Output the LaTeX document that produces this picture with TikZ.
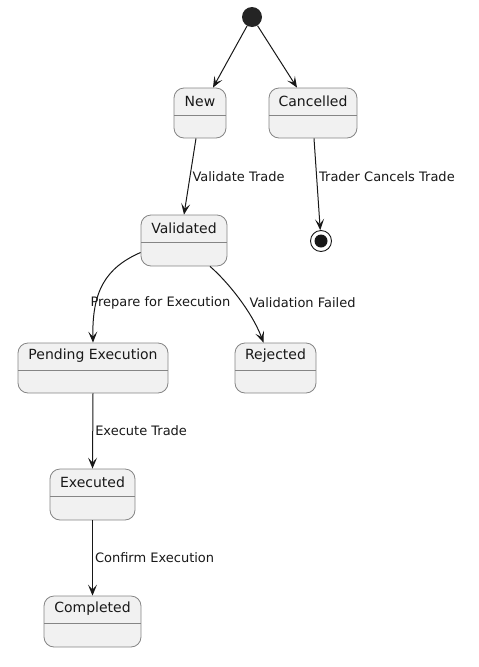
\documentclass[tikz,border=0pt]{standalone}
\usepackage{fontspec}
\setmainfont{DejaVu Sans}
\usetikzlibrary{arrows.meta,calc}
\definecolor{boxfill}{HTML}{F1F1F1}
\definecolor{boxline}{HTML}{858585}
\definecolor{ink}{HTML}{181818}
\tikzset{
  stbox/.style n args={3}{draw=boxline, line width=0.8pt, fill=boxfill, rounded corners=10pt,
    minimum width=#2, minimum height=#3, inner sep=0pt,
    path picture={\draw[boxline, line width=0.8pt]
      ([yshift=-27pt]path picture bounding box.north west) --
      ([yshift=-27pt]path picture bounding box.north east);},
    label={[font=\fontsize{14}{16}\selectfont, text=ink, anchor=center, yshift=-13.5pt]north:#1}},
  conn/.style={draw=ink, line width=1pt, -{Stealth[length=11pt,width=9pt,inset=5pt]}},
  lbl/.style={font=\fontsize{13}{15}\selectfont, text=ink, inner sep=1pt, anchor=west},
  startdot/.style={circle, fill=ink!95, minimum size=20pt, inner sep=0pt},
  enddot/.style={circle, draw=ink, line width=0.9pt, fill=white, minimum size=21pt, inner sep=0pt,
    path picture={\fill[ink] (path picture bounding box.center) circle (6.5pt);}}
}
\begin{document}
\begin{tikzpicture}[x=1pt,y=-1pt]
\useasboundingbox (0,0) rectangle (479,667);
\node[startdot] (start) at (252,17) {};
\node[stbox={New}{52pt}{50pt}] (new) at (200,113) {};
\node[stbox={Cancelled}{88pt}{50pt}] (can) at (313,113) {};
\node[stbox={Validated}{86pt}{51pt}] (val) at (184,240.5) {};
\node[enddot] (fin) at (321,241) {};
\node[stbox={Pending Execution}{150pt}{50pt}] (pend) at (93,368) {};
\node[stbox={Rejected}{81pt}{50pt}] (rej) at (275.5,368) {};
\node[stbox={Executed}{85pt}{51pt}] (exe) at (92.5,494.5) {};
\node[stbox={Completed}{97pt}{51pt}] (comp) at (92.5,621.5) {};

\draw[conn] (start) -- ($(new.north)+(13,0)$);
\draw[conn] (start) -- ($(can.north)+(-16,0)$);
\draw[conn] ($(new.south)+(-4,0)$) -- node[lbl, xshift=1pt] {Validate Trade} (val.north);
\draw[conn] ($(can.south)+(1,0)$) -- node[lbl, pos=0.42, xshift=1pt] {Trader Cancels Trade} (fin);
\draw[conn] ($(val.west)+(0,12)$) .. controls (105,268) and (92,292) .. (pend.north)
  node[lbl] at (89,303) {Prepare for Execution};
\draw[conn] ($(val.south)+(26,0)$) .. controls (228,282) and (252,312) .. ($(rej.north)+(-12,0)$)
  node[lbl] at (248,303) {Validation Failed};
\draw[conn] (pend.south) -- node[lbl, xshift=1pt] {Execute Trade} (exe.north);
\draw[conn] (exe.south) -- node[lbl, xshift=1pt] {Confirm Execution} (comp.north);
\end{tikzpicture}
\end{document}
